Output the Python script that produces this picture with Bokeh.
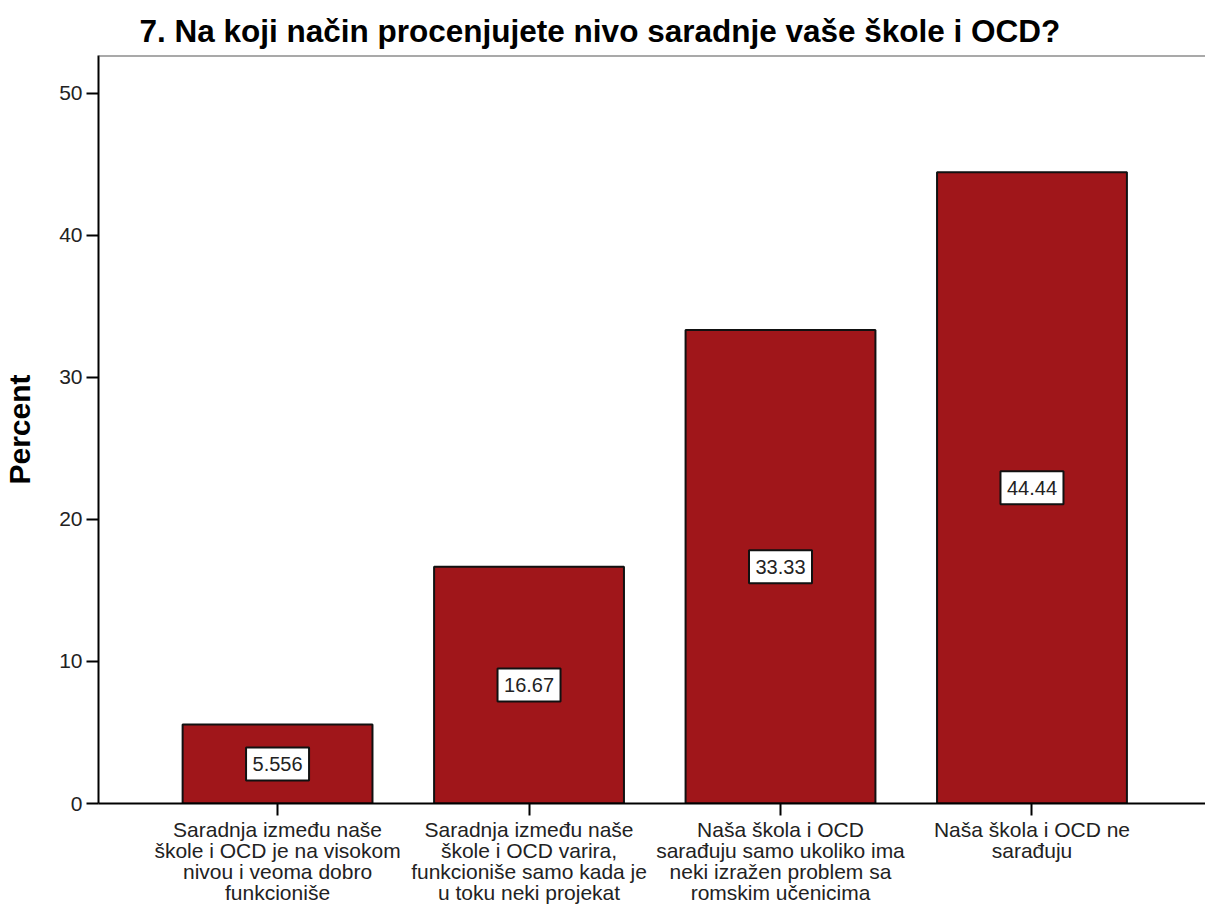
from bokeh.plotting import figure
from bokeh.models import Range1d, FixedTicker, Span, ColumnDataSource
from bokeh.core.properties import value
from bokeh.embed import file_html
from bokeh.resources import INLINE

# ---- data ----
categories = [
    "Saradnja između naše\nškole i OCD je na visokom\nnivou i veoma dobro\nfunkcioniše",
    "Saradnja između naše\nškole i OCD varira,\nfunkcioniše samo kada je\nu toku neki projekat",
    "Naša škola i OCD\nsarađuju samo ukoliko ima\nneki izražen problem sa\nromskim učenicima",
    "Naša škola i OCD ne\nsarađuju",
]
percents = [5.556, 16.67, 33.33, 44.44]
value_labels = ["5.556", "16.67", "33.33", "44.44"]
y_ticks = [0, 10, 20, 30, 40, 50]
title_text = "7. Na koji način procenjujete nivo saradnje vaše škole i OCD?"
y_title = "Percent"

FONT = "Liberation Sans"
BAR_COLOR = "#A0161A"
Y_MAX = 52.65

xs = list(range(len(categories)))
src = ColumnDataSource(dict(
    x=xs,
    top=percents,
    mid=[v / 2 for v in percents],
    lab=value_labels,
))

p = figure(
    width=1205, height=906,
    output_backend="svg", toolbar_location=None,
    x_range=Range1d(-0.712, 3.69),
    y_range=Range1d(0, Y_MAX),
    min_border_left=96, min_border_top=55, min_border_bottom=103, min_border_right=0,
)
p.outline_line_color = None
p.grid.grid_line_color = None
p.background_fill_color = "white"
p.border_fill_color = "white"

# title
p.title.text = title_text
p.title.text_font = FONT
p.title.text_font_size = "31.5px"
p.title.text_font_style = "bold"
p.title.text_color = "black"
p.title.align = "left"
p.title.offset = 41
p.title.standoff = 13

# bars
p.vbar(x="x", top="top", bottom=0, width=0.755, source=src,
       fill_color=BAR_COLOR, line_color="#111111", line_width=2)

# value label boxes
p.rect(x="x", y="mid", width=63, height=33, width_units="screen", height_units="screen",
       source=src, fill_color="white", line_color="#111111", line_width=2)
p.text(x="x", y="mid", text="lab", source=src, text_align="center", text_baseline="middle",
       text_font=value(FONT), text_font_size="20px", text_color="#222222")

# top border
p.add_layout(Span(location=Y_MAX, dimension="width", line_color="#555555", line_width=2))

# x axis
xa = p.xaxis[0]
xa.ticker = FixedTicker(ticks=xs)
xa.major_label_overrides = {i: c for i, c in enumerate(categories)}
xa.major_label_text_font = FONT
xa.major_label_text_font_size = "21px"
xa.major_label_text_color = "#222222"
xa.major_label_text_line_height = 0.92
xa.major_label_standoff = 2
xa.major_tick_out = 12
xa.major_tick_in = 0
xa.minor_tick_line_color = None
xa.axis_line_color = "black"
xa.axis_line_width = 2
xa.major_tick_line_color = "black"
xa.major_tick_line_width = 2

# y axis
ya = p.yaxis[0]
ya.ticker = FixedTicker(ticks=y_ticks)
ya.axis_label = y_title
ya.axis_label_text_font = FONT
ya.axis_label_text_font_size = "30px"
ya.axis_label_text_font_style = "bold"
ya.axis_label_text_color = "black"
ya.axis_label_standoff = 20
ya.major_label_text_font = FONT
ya.major_label_text_font_size = "21px"
ya.major_label_text_color = "#222222"
ya.major_label_standoff = 4
ya.major_tick_out = 12
ya.major_tick_in = 0
ya.minor_tick_line_color = None
ya.axis_line_color = "black"
ya.axis_line_width = 2
ya.major_tick_line_color = "black"
ya.major_tick_line_width = 2

open("out.html", "w").write(file_html(p, INLINE))
